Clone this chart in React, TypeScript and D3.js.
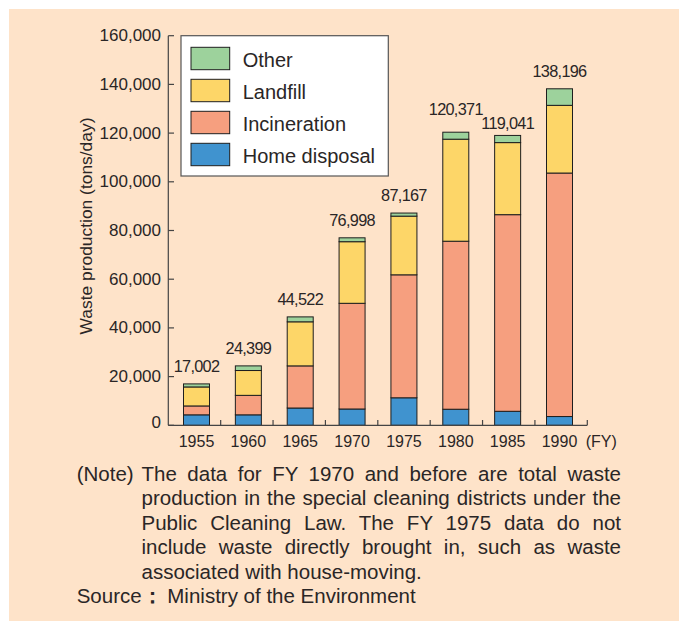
import React, { useRef, useLayoutEffect } from "react";
import * as d3 from "d3";

const years = ["1955", "1960", "1965", "1970", "1975", "1980", "1985", "1990"];
const homeDisposal = [4300, 4300, 7100, 6700, 11300, 6600, 5750, 3600];
const incineration = [3650, 8000, 17300, 43400, 50500, 69000, 80750, 100000];
const landfill = [7800, 10200, 18100, 25300, 24100, 41900, 29600, 27800];
const other = [1252, 1899, 2022, 1598, 1267, 2871, 2941, 6796];
const totals = [17002, 24399, 44522, 76998, 87167, 120371, 119041, 138196];
const yTicks = [0, 20000, 40000, 60000, 80000, 100000, 120000, 140000, 160000];

const seriesNames = ["Home disposal", "Incineration", "Landfill", "Other"];
const seriesColors = ["#4093cf", "#f69f7f", "#fdd668", "#9dd29c"];

const noteLines = [
  "The data for FY 1970 and before are total waste",
  "production in the special cleaning districts under the",
  "Public Cleaning Law. The FY 1975 data do not",
  "include waste directly brought in, such as waste",
  "associated with house-moving.",
];

// label vertical nudges (px) to avoid overlaps, keyed by year
const labelNudge: Record<string, number> = { "1980": -5, "1985": 6 };

const FONT = "'Liberation Sans', Arial, Helvetica, sans-serif";
const TEXT = "#2a2626";

export default function App() {
  const W = 679;
  const H = 621;
  const y = d3.scaleLinear().domain([0, 160000]).range([425.3, 35.7]);
  const xc = d3.scalePoint<string>().domain(years).range([196.5, 559.5]);
  const xb = d3.scaleLinear().domain([0, 8]).range([168.3, 587.3]);
  const barW = 26;
  const noteRefs = useRef<(SVGTextElement | null)[]>([]);
  const justifyW = 479.5;

  useLayoutEffect(() => {
    noteRefs.current.forEach((el, i) => {
      if (!el || i >= 4) return;
      el.setAttribute("word-spacing", "0");
      const natural = el.getComputedTextLength();
      const spaces = (noteLines[i].match(/ /g) || []).length;
      if (spaces > 0) {
        el.setAttribute("word-spacing", String((justifyW - natural) / spaces));
      }
    });
  }, []);

  const rows = years.map((yr, i) => ({
    year: yr,
    "Home disposal": homeDisposal[i],
    Incineration: incineration[i],
    Landfill: landfill[i],
    Other: other[i],
  }));
  const stacked = d3.stack<any>().keys(seriesNames)(rows);

  const legendOrder = [3, 2, 1, 0];

  return (
    <svg
      width={W}
      height={H}
      style={{ position: "absolute", left: 0, top: 0, fontFamily: FONT }}
    >
      <rect x={9} y={9} width={W - 9} height={H - 9} fill="#fee3c9" />

      {/* bars */}
      {stacked.map((s, si) =>
        s.map((d, i) => (
          <rect
            key={`${si}-${i}`}
            x={(xc(years[i]) as number) - barW / 2}
            y={y(d[1])}
            width={barW}
            height={y(d[0]) - y(d[1])}
            fill={seriesColors[si]}
            stroke="#1e1e1e"
            strokeWidth={1}
          />
        ))
      )}

      {/* y axis */}
      <line x1={168.3} x2={168.3} y1={35.7} y2={425.3} stroke="#444" strokeWidth={1.2} />
      {yTicks.map((t) => (
        <g key={t}>
          <line x1={168.3} x2={174} y1={y(t)} y2={y(t)} stroke="#444" strokeWidth={1.2} />
          <text
            x={161}
            y={y(t) - (t === 0 ? 3 : 0)}
            textAnchor="end"
            dominantBaseline="central"
            fontSize={17}
            fill={TEXT}
          >
            {d3.format(",")(t)}
          </text>
        </g>
      ))}

      {/* x axis */}
      <line x1={168.3} x2={587.3} y1={425.3} y2={425.3} stroke="#444" strokeWidth={1.2} />
      {d3.range(1, 9).map((i) => (
        <line key={i} x1={xb(i)} x2={xb(i)} y1={425.3} y2={420} stroke="#444" strokeWidth={1.2} />
      ))}
      {years.map((yr) => (
        <text key={yr} x={xc(yr)} y={447.3} textAnchor="middle" fontSize={16} fill={TEXT}>
          {yr}
        </text>
      ))}
      <text x={585.7} y={447.3} fontSize={16} fill={TEXT}>
        (FY)
      </text>

      {/* total labels */}
      {years.map((yr, i) => (
        <text
          key={yr}
          x={xc(yr)}
          y={y(totals[i]) - 12 + (labelNudge[yr] || 0)}
          textAnchor="middle"
          fontSize={16.3}
          letterSpacing={-0.7}
          fill={TEXT}
        >
          {d3.format(",")(totals[i])}
        </text>
      ))}

      {/* y title */}
      <text
        transform={`translate(86,226) rotate(-90)`}
        textAnchor="middle"
        dominantBaseline="central"
        fontSize={17.4}
        fill={TEXT}
      >
        Waste production (tons/day)
      </text>

      {/* legend */}
      <rect x={181} y={35.7} width={207.3} height={140.3} fill="#ffffff" stroke="#555" strokeWidth={1.2} />
      {legendOrder.map((si, k) => (
        <g key={si}>
          <rect
            x={191}
            y={47.3 + k * 32}
            width={38.7}
            height={22.4}
            fill={seriesColors[si]}
            stroke="#1e1e1e"
            strokeWidth={1}
          />
          <text x={242.7} y={66.7 + k * 32} fontSize={20} fill={TEXT}>
            {seriesNames[si]}
          </text>
        </g>
      ))}

      {/* note */}
      <text x={76.7} y={481} fontSize={20.5} fill={TEXT}>
        (Note)
      </text>
      {noteLines.map((line, i) => (
        <text
          key={i}
          ref={(el) => {
            noteRefs.current[i] = el;
          }}
          x={141.5}
          y={481 + i * 24.45}
          fontSize={20.5}
          fill={TEXT}
          style={{ whiteSpace: "pre" }}
        >
          {line}
        </text>
      ))}
      <text x={76.7} y={603.3} fontSize={20.5} fill={TEXT}>
        Source
      </text>
      <text x={152} y={603.3} fontSize={20.5} textAnchor="middle" fill={TEXT} fontWeight="bold">
        ：
      </text>
      <text x={167.3} y={603.3} fontSize={20.5} fill={TEXT}>
        Ministry of the Environment
      </text>
    </svg>
  );
}
